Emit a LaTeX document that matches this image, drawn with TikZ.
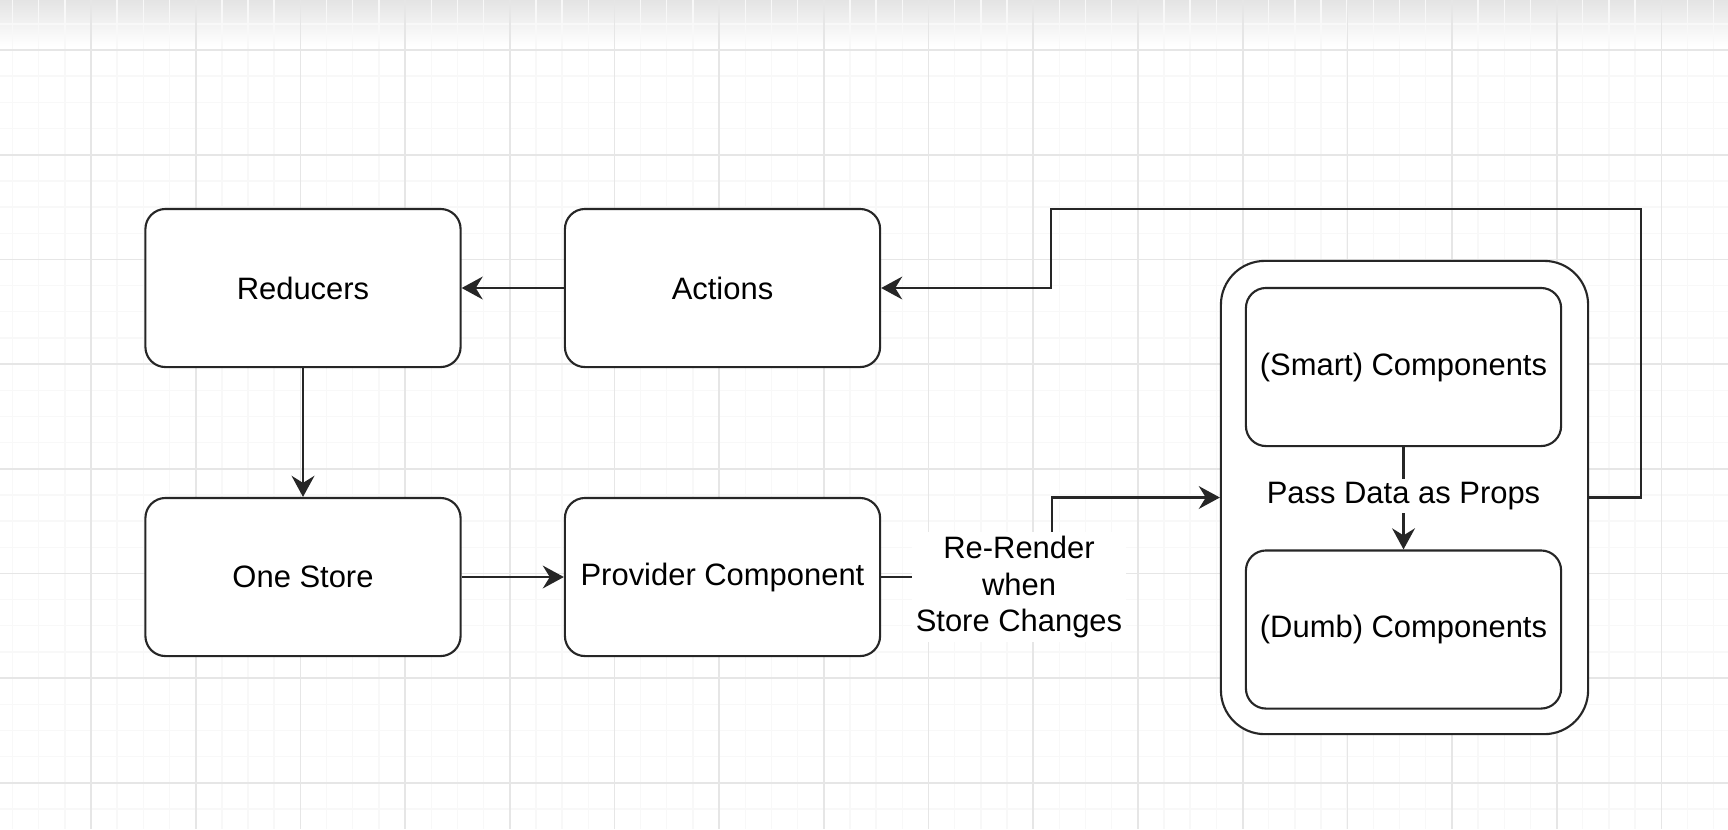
\documentclass[tikz,border=0pt]{standalone}
\usepackage{fontspec}
\setmainfont{Liberation Sans}
\usetikzlibrary{arrows.meta, positioning}
\usepackage{xcolor}
\definecolor{gridmajor}{HTML}{E6E6E6}
\definecolor{gridminor}{HTML}{F8F8F8}
\definecolor{topbar}{HTML}{E4E4E4}
\def\boxw{3.15cm}
\def\boxh{1.58cm}

\begin{document}
\begin{tikzpicture}[x=0.01cm, y=-0.01cm, line width=0.6pt, draw=black!85,
    font=\fontsize{8.8}{10.5}\selectfont]
    \tikzstyle{block}=[rectangle, rounded corners=5.7pt, draw=black!85, fill=white,
        minimum width=\boxw, minimum height=\boxh, inner sep=0pt]
    \tikzstyle{holder}=[rectangle, rounded corners=12.5pt, draw=black!85, fill=white,
        minimum width=3.67cm, minimum height=4.73cm, inner sep=0pt]
    \tikzstyle{flow}=[-{Stealth[length=6pt, width=6.5pt, inset=2pt]}]
    \tikzstyle{annot}=[fill=white, align=center, inner sep=1pt]

    \useasboundingbox (0,0) rectangle (1728,829);

    % Draw the canvas: top bar and grid
    \shade[top color=topbar, bottom color=white, draw=none] (0,0) rectangle (1728,46);
    \foreach \i in {-3,...,62}
        \draw[gridminor, line width=0.4pt] ({91+26.17*\i},0) -- ({91+26.17*\i},829);
    \foreach \i in {-1,...,31}
        \draw[gridminor, line width=0.4pt] (0,{50+26.17*\i}) -- (1728,{50+26.17*\i});
    \foreach \i in {0,...,15}
        \draw[gridmajor, line width=0.5pt] ({91+104.7*\i},0) -- ({91+104.7*\i},829);
    \foreach \i in {0,...,7}
        \draw[gridmajor, line width=0.5pt] (0,{50+104.7*\i}) -- (1728,{50+104.7*\i});

    % Draw the store side
    \node[block] (R) at (303,288) {Reducers};
    \node[block] (A) at (722.5,288) {Actions};
    \node[block] (S) at (303,577) {One Store};
    \node[block] (P) at (722.5,577) {Provider Component};

    % Draw the component side
    \node[holder] (C) at (1404.5,497.5) {};
    \node[block] (Sm) at (1403.5,367) {(Smart) Components};
    \node[block] (D) at (1403.5,629.5) {(Dumb) Components};

    % Connect the boxes
    \draw[flow] (A) -- (R);
    \draw[flow] (R) -- (S);
    \draw[flow] (S) -- (P);
    \draw[flow] (P.east) -- ++(171,0) |- (C.west);
    \node[annot] (rr) at (1019,587) {Re-Render\\when\\Store Changes};
    \draw[flow] (Sm) -- (D);
    \node[annot] (pd) at (1403.5,496) {Pass Data as Props};

    % Feed back from the components to the actions
    \draw[flow] (C.east) -- ++(52,0) |- (1051,209) |- (A.east);
\end{tikzpicture}
\end{document}
